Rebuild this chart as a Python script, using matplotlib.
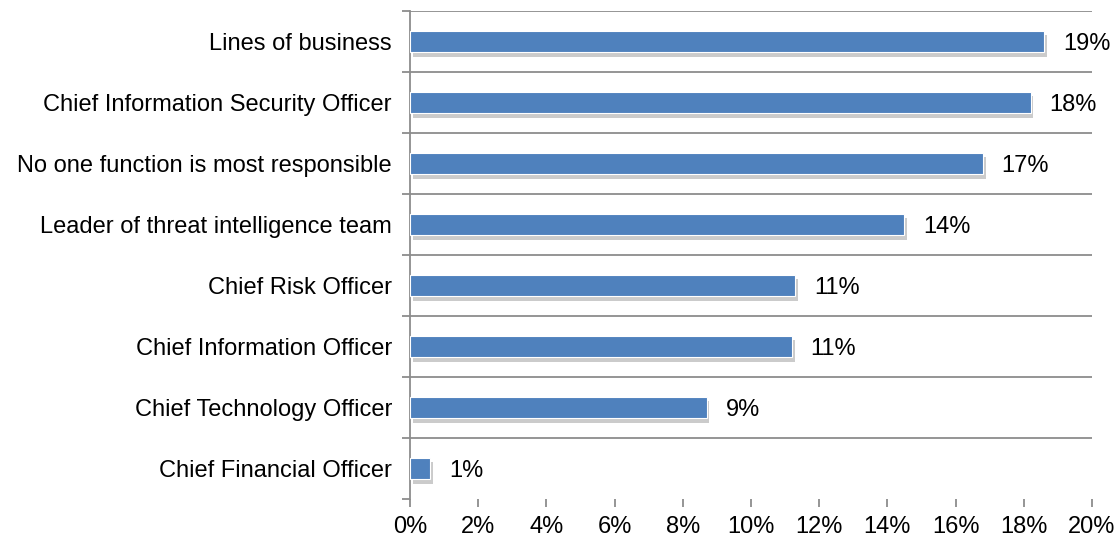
import matplotlib
matplotlib.use("Agg")
import matplotlib.pyplot as plt
import matplotlib.patheffects as pe
import numpy as np

plt.rcParams["font.family"] = ["Liberation Sans", "DejaVu Sans"]

roles = [
    "Lines of business",
    "Chief Information Security Officer",
    "No one function is most responsible",
    "Leader of threat intelligence team",
    "Chief Risk Officer",
    "Chief Information Officer",
    "Chief Technology Officer",
    "Chief Financial Officer",
]
shares = [18.6, 18.2, 16.8, 14.5, 11.3, 11.2, 8.7, 0.6]
xticks = [0, 2, 4, 6, 8, 10, 12, 14, 16, 18, 20]

fig = plt.figure(figsize=(11.2, 5.38), dpi=100)
ax = fig.add_axes([410 / 1120, 39 / 538, 682 / 1120, 488 / 538])

y = np.arange(len(roles))[::-1]
bars = ax.barh(y, shares, height=0.36, color="#4F81BD", edgecolor="white",
               linewidth=0.8, zorder=3)
for b in bars:
    b.set_path_effects([
        pe.SimplePatchShadow(offset=(2, -3), shadow_rgbFace="#7f7f7f", alpha=0.4),
        pe.Normal(),
    ])

for yi, v in zip(y, shares):
    ax.text(v + 0.55, yi, f"{v:.0f}%", va="center_baseline", ha="left", fontsize=17)

ax.set_xlim(0, 20)
ax.set_ylim(-0.5, len(roles) - 0.5)

# gridlines sit between categories
bounds = np.arange(len(roles) + 1) - 0.5
for bnd in bounds[1:]:
    ax.axhline(bnd, color="#8c8c8c", linewidth=1.3, zorder=1)

ax.set_yticks(y)
ax.set_yticklabels(roles, fontsize=17)
ax.tick_params(axis="y", length=0, pad=13)
ax.set_yticks(bounds, minor=True)
ax.tick_params(axis="y", which="minor", length=6, color="#8c8c8c", width=1.3)

ax.set_xticks(xticks)
ax.set_xticklabels([f"{t}%" for t in xticks], fontsize=17)
ax.tick_params(axis="x", length=6, color="#8c8c8c", width=1.3, pad=6)

for s in ["top", "right", "bottom"]:
    ax.spines[s].set_visible(False)
ax.spines["left"].set_color("#8c8c8c")
ax.spines["left"].set_linewidth(1.3)

fig.savefig("out.png", dpi=100)
